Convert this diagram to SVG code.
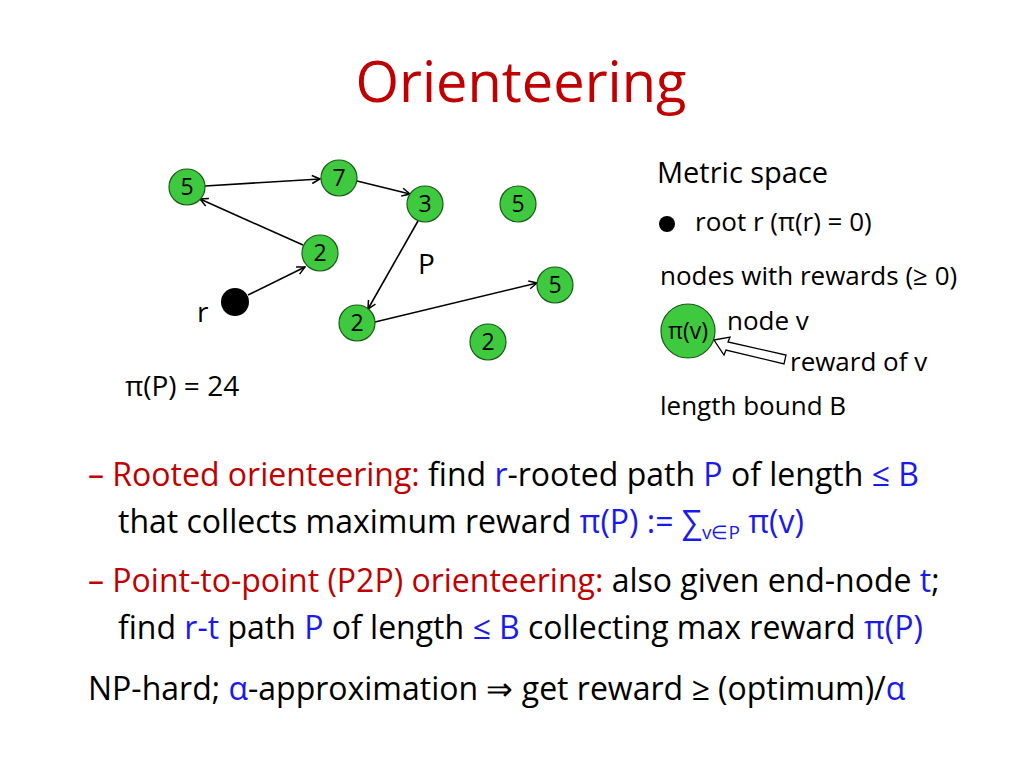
<svg xmlns="http://www.w3.org/2000/svg" width="1024" height="768" viewBox="0 0 1024 768">
<style>
text{font-family:"Open Sans","Liberation Sans",sans-serif;fill:#000}
.n circle{fill:#3ec93e;stroke:#1a5a1a;stroke-width:1.2}
.n text{font-size:23px;text-anchor:middle}
.e{stroke:#000;stroke-width:1.6;fill:none;marker-end:url(#a)}
.t{font-size:28px}
.b{font-size:32px}
.red{fill:#c00000}
.blu{fill:#1a1aee}
</style>
<defs><marker id="a" viewBox="0 0 10 10" refX="9" refY="5" markerWidth="10" markerHeight="10" markerUnits="userSpaceOnUse" orient="auto"><path d="M1,1 L9,5 L1,9" fill="none" stroke="#000" stroke-width="1.5"/></marker></defs>
<rect width="1024" height="768" fill="#fff"/>
<text x="521" y="102" font-size="56" text-anchor="middle" class="red">Orienteering</text>
<g id="edges">
<line class="e" x1="205" y1="186" x2="320" y2="179"/>
<line class="e" x1="357" y1="181" x2="410" y2="194"/>
<line class="e" x1="418" y1="221" x2="368" y2="309"/>
<line class="e" x1="375" y1="322" x2="537" y2="283"/>
<line class="e" x1="248" y1="295" x2="305" y2="267"/>
<line class="e" x1="303" y1="245" x2="200" y2="199"/>
</g>
<g id="r"><circle cx="235" cy="302" r="14" fill="#000"/><text x="197" y="322" class="t">r</text></g>
<g id="n1" class="n"><circle cx="187" cy="187" r="18"/><text x="187" y="195">5</text></g>
<g id="n2" class="n"><circle cx="339" cy="178" r="18"/><text x="339" y="186">7</text></g>
<g id="n3" class="n"><circle cx="425" cy="204" r="18"/><text x="425" y="212">3</text></g>
<g id="n4" class="n"><circle cx="518" cy="204" r="18"/><text x="518" y="212">5</text></g>
<g id="n5" class="n"><circle cx="320" cy="253" r="18"/><text x="320" y="261">2</text></g>
<g id="n6" class="n"><circle cx="357" cy="323" r="18"/><text x="357" y="331">2</text></g>
<g id="n7" class="n"><circle cx="555" cy="285" r="18"/><text x="555" y="293">5</text></g>
<g id="n8" class="n"><circle cx="488" cy="342" r="18"/><text x="488" y="350">2</text></g>
<text x="418" y="274" class="t">P</text>
<text x="125" y="396" class="t">π(P) = 24</text>
<g id="legend">
<text x="657" y="183" font-size="29">Metric space</text>
<circle cx="667" cy="224" r="8" fill="#000"/>
<text x="695" y="231" font-size="26">root r  (π(r) = 0)</text>
<text x="660" y="285" font-size="26">nodes with rewards (≥ 0)</text>
<g class="n"><circle cx="688" cy="331" r="27"/><text x="688" y="339" font-size="23">π(v)</text></g>
<text x="727" y="330" font-size="26">node v</text>
<path d="M714,340 L730,337 L728,342 L786,355 L784,364 L726,350 L724,355 Z" fill="#fff" stroke="#000" stroke-width="1.3"/>
<text x="790" y="371" font-size="26">reward of v</text>
<text x="660" y="415" font-size="26">length bound B</text>
</g>
<g class="b">
<text x="88" y="486" class="red">– Rooted orienteering:<tspan fill="#000"> find </tspan><tspan class="blu">r</tspan><tspan fill="#000">-rooted path </tspan><tspan class="blu">P</tspan><tspan fill="#000"> of length </tspan><tspan class="blu">≤ B</tspan></text>
<text x="118" y="533">that collects maximum reward <tspan class="blu">π(P) := ∑</tspan><tspan class="blu" font-size="19" dy="6">v∈P</tspan><tspan class="blu" dy="-6"> π(v)</tspan></text>
<text x="88" y="592" class="red">– Point-to-point (P2P) orienteering:<tspan fill="#000"> also given end-node </tspan><tspan class="blu">t</tspan><tspan fill="#000">;</tspan></text>
<text x="118" y="639">find <tspan class="blu">r-t</tspan> path <tspan class="blu">P</tspan> of length <tspan class="blu">≤ B</tspan> collecting max reward <tspan class="blu">π(P)</tspan></text>
<text x="88" y="700">NP-hard;  <tspan class="blu">α</tspan>-approximation ⇒ get reward ≥ (optimum)/<tspan class="blu">α</tspan></text>
</g>
</svg>
